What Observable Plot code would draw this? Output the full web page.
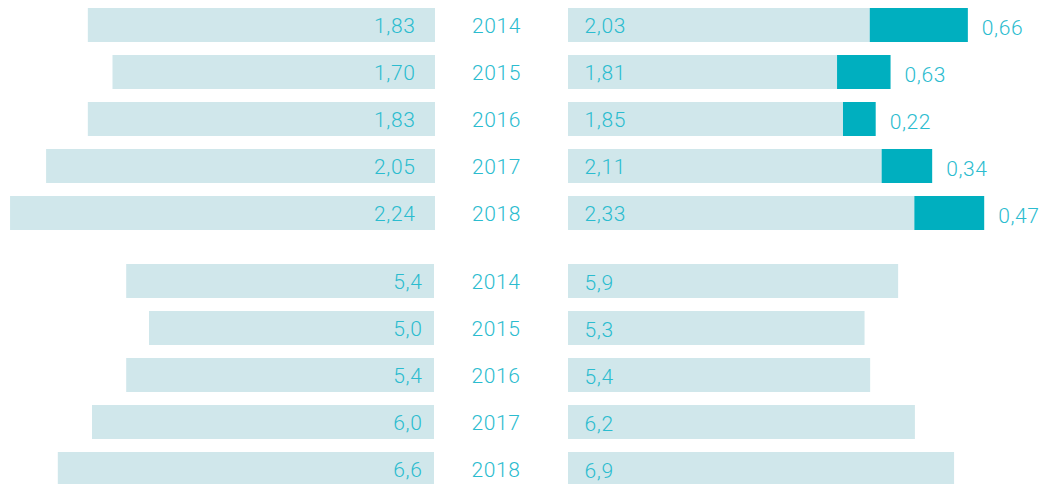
<!DOCTYPE html>
<html>
<head>
<meta charset="utf-8">
<script src="https://cdn.jsdelivr.net/npm/d3@7"></script>
<script src="https://cdn.jsdelivr.net/npm/@observablehq/plot@0.6"></script>
<style>
  html, body { margin: 0; padding: 0; background: #fff; overflow: hidden; }
  #chart { position: relative; width: 1045px; height: 484px; overflow: hidden; }
  #chart > svg { position: absolute; overflow: visible; }
  #chart text { letter-spacing: 0.6px; }
</style>
</head>
<body>
<div id="chart"></div>
<script>
// ---- data ----
const years = ["2014", "2015", "2016", "2017", "2018"];
const topLeft = [1.83, 1.70, 1.83, 2.05, 2.24];
const topRightBase = [2.03, 1.81, 1.85, 2.11, 2.33];
const topRightExtraBar = [0.66, 0.36, 0.22, 0.34, 0.47];   // drawn segment length
const topRightExtraLabel = [0.66, 0.63, 0.22, 0.34, 0.47]; // printed label
const bottomLeft = [5.4, 5.0, 5.4, 6.0, 6.6];
const bottomRight = [5.9, 5.3, 5.4, 6.2, 6.9];

// ---- styles ----
const LIGHT = "#d0e7eb";
const DARK = "#00afbf";
const TEXT = "#2bbccf";
const FONT = "Roboto, 'Open Sans', sans-serif";
const FS = 21;
const fmt = (v, n) => v.toFixed(n).replace(".", ",");

const chart = document.getElementById("chart");
function place(svg, left, top) {
  svg.style.left = left + "px";
  svg.style.top = top + "px";
  chart.appendChild(svg);
}
const baseStyle = {fontFamily: FONT, fontWeight: 300, fontSize: FS + "px", background: "transparent", color: TEXT};
const txt = {fill: TEXT, fontSize: FS, fontWeight: 300};

// ---- top-left ----
const tl = years.map((y, i) => ({year: y, v: topLeft[i]}));
place(Plot.plot({
  width: 540, height: 240,
  marginTop: 7, marginBottom: 8.3, marginLeft: 0, marginRight: 105,
  x: {domain: [0, 2.293], reverse: true, axis: null},
  y: {domain: years, paddingInner: 0.27, paddingOuter: 0, axis: null},
  style: baseStyle,
  marks: [
    Plot.barX(tl, {x1: 0, x2: "v", y: "year", fill: LIGHT}),
    Plot.text(tl, {x: 0, y: "year", text: d => fmt(d.v, 2), textAnchor: "end", dx: -20, dy: 1, ...txt}),
    Plot.text(tl, {x: 0, y: "year", text: "year", textAnchor: "middle", dx: 61, dy: 1, ...txt})
  ]
}), 0, 0);

// ---- top-right ----
const tr = years.map((y, i) => ({year: y, base: topRightBase[i], extra: topRightExtraBar[i], label: topRightExtraLabel[i]}));
const trLong = tr.flatMap(d => [
  {year: d.year, kind: "base", v: d.base},
  {year: d.year, kind: "extra", v: d.extra}
]);
place(Plot.plot({
  width: 477, height: 240,
  marginTop: 7, marginBottom: 8.3, marginLeft: 0, marginRight: 0,
  x: {domain: [0, 3.209], axis: null},
  y: {domain: years, paddingInner: 0.27, paddingOuter: 0, axis: null},
  style: baseStyle,
  marks: [
    Plot.barX(trLong, Plot.stackX({x: "v", y: "year", fill: d => d.kind === "base" ? LIGHT : DARK, order: null})),
    Plot.text(tr, {x: 0, y: "year", text: d => fmt(d.base, 2), textAnchor: "start", dx: 16, dy: 1, ...txt}),
    Plot.text(tr, {x: d => d.base + d.extra, y: "year", text: d => fmt(d.label, 2), textAnchor: "start", dx: 13.5, dy: 2.5, ...txt})
  ]
}), 568, 0);

// ---- bottom-left ----
const bl = years.map((y, i) => ({year: y, v: bottomLeft[i]}));
place(Plot.plot({
  width: 540, height: 236,
  marginTop: 13, marginBottom: 0.3, marginLeft: 0, marginRight: 106,
  x: {domain: [0, 7.614], reverse: true, axis: null},
  y: {domain: years, paddingInner: 0.287, paddingOuter: 0, axis: null},
  style: baseStyle,
  marks: [
    Plot.barX(bl, {x1: 0, x2: "v", y: "year", fill: LIGHT}),
    Plot.text(bl, {x: 0, y: "year", text: d => fmt(d.v, 1), textAnchor: "end", dx: -12, dy: 1, ...txt}),
    Plot.text(bl, {x: 0, y: "year", text: "year", textAnchor: "middle", dx: 61.5, dy: 1, ...txt})
  ]
}), 0, 250);

// ---- bottom-right ----
const br = years.map((y, i) => ({year: y, v: bottomRight[i]}));
place(Plot.plot({
  width: 477, height: 236,
  marginTop: 13, marginBottom: 0.3, marginLeft: 0, marginRight: 0,
  x: {domain: [0, 8.525], axis: null},
  y: {domain: years, paddingInner: 0.287, paddingOuter: 0, axis: null},
  style: baseStyle,
  marks: [
    Plot.barX(br, {x1: 0, x2: "v", y: "year", fill: LIGHT}),
    Plot.text(br, {x: 0, y: "year", text: d => fmt(d.v, 1), textAnchor: "start", dx: 16, dy: 1.5, ...txt})
  ]
}), 568, 250);
</script>
</body>
</html>
